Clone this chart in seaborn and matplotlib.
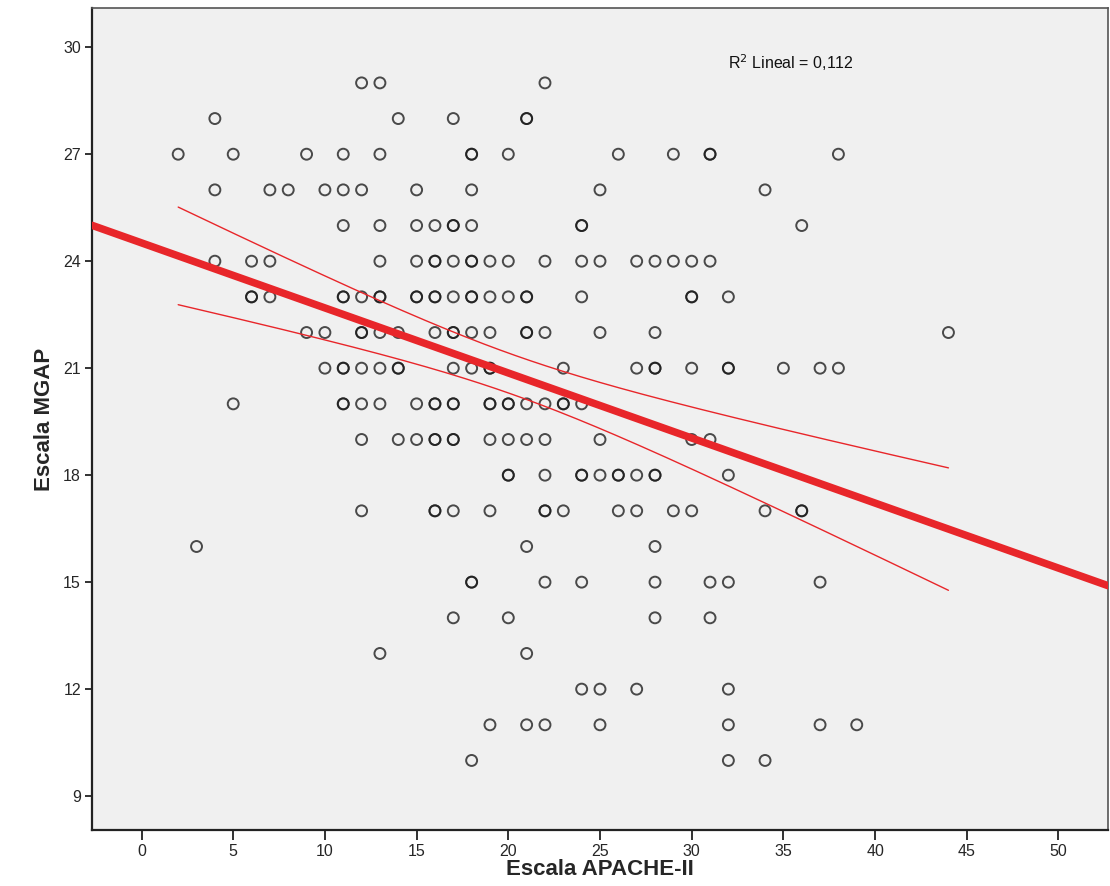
"""
Diagrama de dispersión: Escala APACHE-II vs Escala MGAP
con recta de regresión lineal e intervalo de confianza de la media (95%).
"""

import numpy as np
import pandas as pd
import matplotlib
matplotlib.use("Agg")
import matplotlib.pyplot as plt
import seaborn as sns

mgap_niveles = [29, 28, 27, 26, 25, 24, 23, 22, 21, 20, 19, 18, 17, 16, 15, 14, 13, 12, 11, 10]
apache_29 = [12, 13, 22]
apache_28 = [4, 14, 17, 21, 21]
apache_27 = [2, 5, 9, 11, 13, 18, 18, 20, 26, 29, 31, 31, 38]
apache_26 = [4, 7, 8, 10, 11, 12, 15, 18, 25, 34]
apache_25 = [11, 13, 15, 16, 17, 17, 18, 24, 24, 36]
apache_24 = [4, 6, 7, 13, 15, 16, 16, 17, 18, 18, 19, 20, 22, 24, 25, 27, 28, 29, 30, 31]
apache_23 = [6, 6, 7, 11, 11, 12, 13, 13, 15, 15, 16, 16, 17, 18, 18, 19, 20, 21, 21, 24, 30, 30, 32]
apache_22 = [9, 10, 12, 12, 13, 14, 16, 17, 17, 18, 19, 21, 21, 22, 25, 28, 44]
apache_21 = [10, 11, 11, 12, 13, 14, 14, 17, 18, 19, 19, 23, 27, 28, 28, 30, 32, 32, 35, 37, 38]
apache_20 = [5, 11, 11, 12, 13, 15, 16, 16, 17, 17, 19, 19, 20, 20, 21, 22, 23, 23, 24]
apache_19 = [12, 14, 15, 16, 16, 17, 17, 19, 20, 21, 22, 25, 30, 31]
apache_18 = [20, 20, 22, 24, 24, 25, 26, 26, 27, 28, 28, 32]
apache_17 = [12, 16, 16, 17, 19, 22, 22, 23, 26, 27, 29, 30, 34, 36, 36]
apache_16 = [3, 21, 28]
apache_15 = [18, 18, 22, 24, 28, 31, 32, 37]
apache_14 = [17, 20, 28, 31]
apache_13 = [13, 21]
apache_12 = [24, 25, 27, 32]
apache_11 = [19, 21, 22, 25, 32, 37, 39]
apache_10 = [18, 32, 34]

filas = [apache_29, apache_28, apache_27, apache_26, apache_25, apache_24, apache_23,
         apache_22, apache_21, apache_20, apache_19, apache_18, apache_17, apache_16,
         apache_15, apache_14, apache_13, apache_12, apache_11, apache_10]

x_ticks = [0, 5, 10, 15, 20, 25, 30, 35, 40, 45, 50]
y_ticks = [9, 12, 15, 18, 21, 24, 27, 30]
texto_r2 = "R$^2$ Lineal = 0,112"

# construir tabla larga
registros = []
for nivel, fila in zip(mgap_niveles, filas):
    for v in fila:
        registros.append((v, nivel))
df = pd.DataFrame(registros, columns=["APACHE", "MGAP"])

sns.set_style("white")
plt.rcParams["font.family"] = ["Liberation Sans", "DejaVu Sans"]

fig = plt.figure(figsize=(11.1, 8.86), dpi=100)
ax = fig.add_axes([92 / 1110, 1 - 830 / 886, (1108 - 92) / 1110, (830 - 8) / 886])
ax.set_facecolor("#F0F0F0")
ax.set_xlim(-2.7, 52.7)
ax.set_ylim(8.05, 31.1)

# puntos (círculos vacíos; los repetidos se ven más oscuros)
sns.scatterplot(data=df, x="APACHE", y="MGAP", ax=ax, marker="o", s=62,
                facecolor="none", edgecolor=(0.1, 0.1, 0.1, 0.78),
                linewidth=1.4, zorder=3)

# recta de ajuste sobre todo el eje
sns.regplot(data=df, x="APACHE", y="MGAP", ax=ax, scatter=False, ci=None,
            truncate=False, color="#E8262A", line_kws={"lw": 5.4, "zorder": 4})

# intervalo de confianza de la media al 95% (líneas finas)
x = df["APACHE"].to_numpy(float)
y = df["MGAP"].to_numpy(float)
n = len(x)
b, a = np.polyfit(x, y, 1)
resid = y - (a + b * x)
s = np.sqrt(np.sum(resid ** 2) / (n - 2))
sxx = np.sum((x - x.mean()) ** 2)
xs = np.linspace(x.min(), x.max(), 200)
yhat = a + b * xs
half = 1.971 * s * np.sqrt(1 / n + (xs - x.mean()) ** 2 / sxx)
ax.plot(xs, yhat + half, color="#E8262A", lw=1.0, zorder=4)
ax.plot(xs, yhat - half, color="#E8262A", lw=1.0, zorder=4)

ax.text(0.626, 0.934, texto_r2, transform=ax.transAxes, fontsize=11.5,
        ha="left", va="center", color="#111111")

ax.set_xticks(x_ticks)
ax.set_yticks(y_ticks)
ax.tick_params(axis="x", direction="out", length=7, width=1.3, color="#222222",
               labelsize=11.5, pad=3, bottom=True)
ax.tick_params(axis="y", direction="out", length=5, width=1.3, color="#222222",
               labelsize=11.5, pad=3, left=True)
for lado in ["left", "bottom"]:
    ax.spines[lado].set_color("#222222")
    ax.spines[lado].set_linewidth(1.6)
for lado in ["top", "right"]:
    ax.spines[lado].set_color("#555555")
    ax.spines[lado].set_linewidth(1.2)

ax.set_xlabel("Escala APACHE-II", fontsize=16, fontweight="bold", labelpad=0)
ax.set_ylabel("Escala MGAP", fontsize=16, fontweight="bold", labelpad=6)

fig.savefig("out.png", dpi=100)
plt.close(fig)
